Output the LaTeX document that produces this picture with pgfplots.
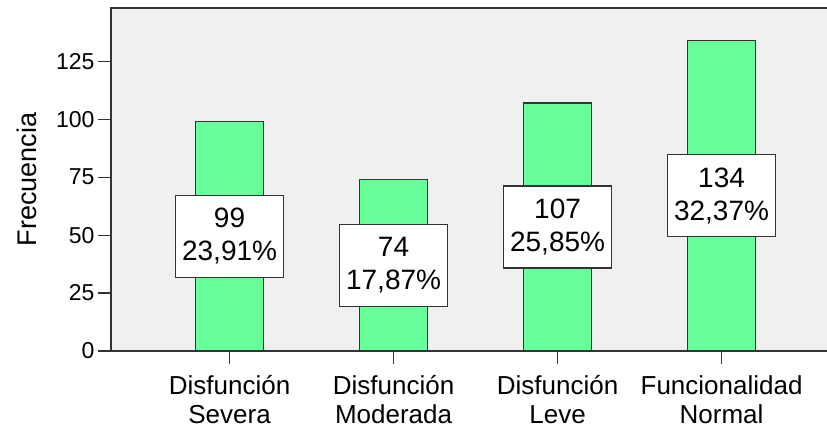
\documentclass[border=0pt]{standalone}
\usepackage{fontspec}
\setmainfont{Liberation Sans}
\usepackage{pgfplots}
\usepackage{pgfplotstable}
\pgfplotsset{compat=1.18}
\definecolor{plotbg}{RGB}{240,240,240}
\definecolor{barfill}{RGB}{102,255,153}
\definecolor{edge}{RGB}{51,51,51}

\pgfplotstableread{
x y half pct
0 99 49.5 23,91
1 74 37 17,87
2 107 53.5 25,85
3 134 67 32,37
}\freqtable

\begin{document}
\begin{tikzpicture}
\begin{axis}[
  scale only axis, width=716pt, height=343pt,
  xmin=-0.723, xmax=3.643, ymin=0, ymax=148,
  clip=false,
  axis background/.style={fill=plotbg},
  axis line style={draw=none},
  ytick={0,25,50,75,100,125},
  xtick={0,1,2,3},
  xticklabels={Disfunción\\Severa, Disfunción\\Moderada, Disfunción\\Leve, Funcionalidad\\Normal},
  xtick pos=bottom, ytick pos=left,
  tick align=outside, major tick length=13pt,
  tick style={edge, line width=1.2pt},
  /pgf/number format/assume math mode=true,
  y tick label style={font=\fontsize{23}{26}\selectfont, color=black},
  x tick label style={font=\fontsize{26}{29}\selectfont, align=center, color=black, yshift=-8pt},
  ylabel={Frecuencia},
  ylabel style={at={(axis description cs:-0.1173,0.5)}, anchor=center, font=\fontsize{27}{30}\selectfont},
]
\addplot[ybar, bar width=68pt, fill=barfill, draw=edge, line width=1.2pt]
  table[x=x, y=y] {\freqtable};
\addplot[draw=none,
  point meta=explicit symbolic,
  visualization depends on={\thisrow{y}\as\nval},
  nodes near coords={\pgfmathprintnumber{\nval}\\\pgfplotspointmeta\%},
  nodes near coords align=center,
  every node near coord/.style={draw=edge, fill=white, line width=1.2pt, align=center,
    minimum width=108pt, minimum height=82pt, inner sep=2pt, anchor=center,
    font=\fontsize{28}{33}\selectfont, text=black},
] table[x=x, y=half, meta=pct] {\freqtable};
\draw[edge, line width=1.5pt] (rel axis cs:1,1) -- (rel axis cs:0,1) -- (rel axis cs:0,0) -- (rel axis cs:1,0);
\end{axis}
\pgfresetboundingbox
\path ([xshift=-111pt,yshift=-86pt]current axis.south west) rectangle ++(827pt,437pt);
\end{tikzpicture}
\end{document}
